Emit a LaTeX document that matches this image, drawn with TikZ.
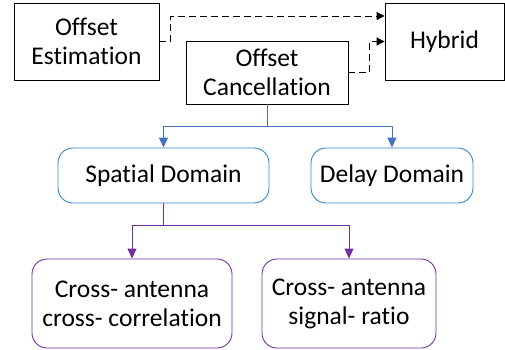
\documentclass[tikz,border=0pt]{standalone}
\usepackage{fontspec}
\setmainfont[Ligatures=NoCommon]{Carlito}
\usetikzlibrary{arrows.meta}
\definecolor{lblue}{HTML}{4472C4}
\definecolor{rblue}{HTML}{2E86D0}
\definecolor{purp}{HTML}{7030A0}
\tikzset{
  txt/.style={align=center, font=\fontsize{25.5}{29}\selectfont, inner sep=0pt},
  sqbox/.style={txt, draw=black, line width=0.9pt},
  rbbox/.style={txt, draw=rblue, line width=0.9pt, rounded corners=15pt},
  rpbox/.style={txt, draw=purp, line width=0.9pt, rounded corners=15pt},
  dasharrow/.style={draw=black, line width=1pt, dash pattern=on 7pt off 4pt, -{Triangle[length=8pt,width=8pt]}},
  bluearrow/.style={draw=lblue, line width=1pt, -{Triangle[length=10pt,width=9pt]}},
  purparrow/.style={draw=purp, line width=1pt, -{Triangle[length=10pt,width=9pt]}},
}
\begin{document}
\begin{tikzpicture}[x=1pt,y=-1pt]
\useasboundingbox (0,0) rectangle (505,349);
\node[sqbox, minimum width=145pt, minimum height=77pt] (OE) at (86.5,41.5) {Offset\\Estimation};
\node[sqbox, minimum width=119pt, minimum height=77pt] (H) at (444.5,41.5) {Hybrid};
\node[sqbox, minimum width=162pt, minimum height=63pt] (OC) at (267,72.5) {Offset\\Cancellation};
\node[rbbox, minimum width=211pt, minimum height=55pt] (SD) at (163.5,175.5) {Spatial Domain};
\node[rbbox, minimum width=162pt, minimum height=55pt] (DD) at (392,175.5) {Delay Domain};
\node[rpbox, minimum width=200pt, minimum height=89pt] (C1) at (132,303.5) {Cross- antenna\\cross- correlation};
\node[rpbox, minimum width=174pt, minimum height=89pt] (C2) at (349,303.5) {Cross- antenna\\signal- ratio};
\draw[dasharrow] (OE.east) -- ++(11,0) |- ([yshift=25.5pt]H.west);
\draw[dasharrow] (OC.east) -- ++(21,0) |- (H.west);
\draw[bluearrow] (OC.south) -- ++(0,22) -| (SD.north);
\draw[bluearrow] (OC.south) -- ++(0,22) -| (DD.north);
\draw[purparrow] (SD.south) -- ++(0,22) -| (C1.north);
\draw[purparrow] (SD.south) -- ++(0,22) -| (C2.north);
\end{tikzpicture}
\end{document}
